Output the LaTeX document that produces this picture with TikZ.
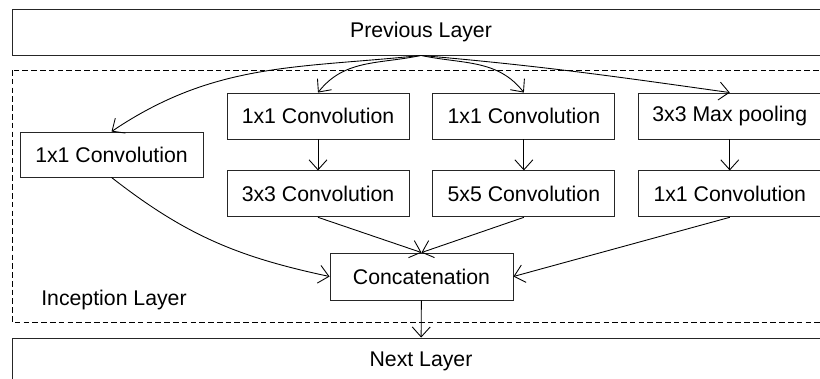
\documentclass[tikz,border=0pt]{standalone}
\usepackage{fontspec}
\setmainfont{Liberation Sans}
\usepackage{tikz}
\usetikzlibrary{arrows.meta,positioning}

\begin{document}
\begin{tikzpicture}[node distance=0.46cm,>={Straight Barb[length=2mm,width=3.6mm]},line width=0.5pt]
  \tikzstyle{box}=[draw=black!85,fill=white,minimum width=3.64cm,minimum height=0.92cm,inner sep=0pt,font=\fontsize{12.1}{14}\selectfont]
  \tikzstyle{layer}=[box,minimum width=16.36cm]
  \tikzstyle{link}=[->,line width=0.5pt]
  \useasboundingbox (0,0) rectangle (16.4,-7.56);
  \clip (0,0) rectangle (16.4,-7.56);
  % dashed frame of the inception block
  \draw[dash pattern=on 3.2pt off 1.8pt] (0.24,-1.40) rectangle (16.8,-6.44);
  \node[anchor=west,font=\fontsize{12.1}{14}\selectfont] (inc) at (0.70,-6.00) {Inception Layer};
  \node[layer] (prev) at (8.42,-0.64) {Previous Layer};
  \node[layer] (next) at (8.42,-7.22) {Next Layer};
  \node[box,minimum width=3.66cm,minimum height=0.90cm] (conva) at (2.23,-3.09) {1x1 Convolution};
  \node[box] (convb) at (6.36,-2.32) {1x1 Convolution};
  \node[box,right=of convb] (convc) {1x1 Convolution};
  \node[box,right=of convc] (pool) {3x3 Max pooling};
  \node[box,below=0.62cm of convb] (conv3) {3x3 Convolution};
  \node[box,below=0.62cm of convc] (conv5) {5x5 Convolution};
  \node[box,below=0.62cm of pool] (convd) {1x1 Convolution};
  \node[box,minimum width=3.66cm,minimum height=0.94cm] (cat) at (8.43,-5.53) {Concatenation};
  \draw[link] (prev.south) to[out=186,in=34] (conva.north);
  \draw[link] (prev.south) to[out=192,in=52] (convb.north);
  \draw[link] (prev.south) to[out=-12,in=128] (convc.north);
  \draw[link] (prev.south) to[out=-5,in=172] (pool.north);
  \draw[link] (convb) -- (conv3);
  \draw[link] (convc) -- (conv5);
  \draw[link] (pool) -- (convd);
  \draw[link] (conva.south) to[out=-38,in=168] (cat.west);
  \draw[link] (conv3.south) -- (cat.north);
  \draw[link] (conv5.south) -- (cat.north);
  \draw[link] (convd.south) -- (cat.east);
  \draw[link] (cat) -- (next);
\end{tikzpicture}
\end{document}
